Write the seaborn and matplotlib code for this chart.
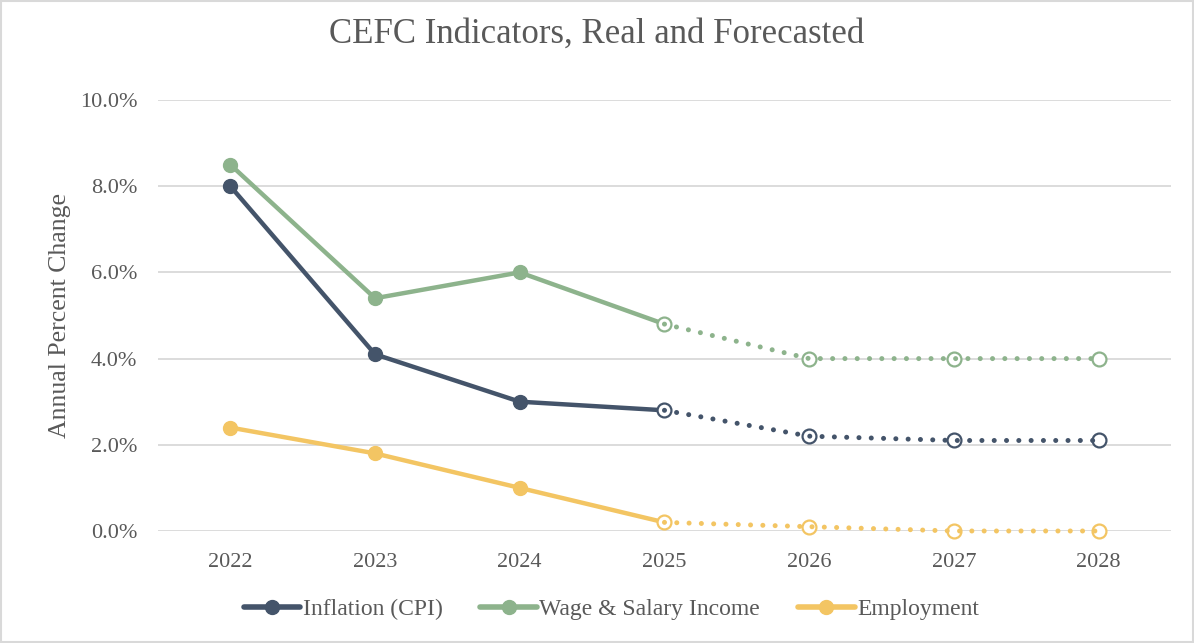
import pandas as pd
import matplotlib.pyplot as plt
import seaborn as sns
from matplotlib.lines import Line2D
from matplotlib.patches import Rectangle
from matplotlib.ticker import FuncFormatter

# Data (annual percent change)
years = ['2022', '2023', '2024', '2025', '2026', '2027', '2028']
inflation = [8.0, 4.1, 3.0, 2.8, 2.2, 2.1, 2.1]
wage_income = [8.5, 5.4, 6.0, 4.8, 4.0, 4.0, 4.0]
employment = [2.4, 1.8, 1.0, 0.2, 0.1, 0.0, 0.0]
series_names = ['Inflation (CPI)', 'Wage & Salary Income', 'Employment']
colors = ['#44546A', '#8DB38C', '#F3C563']
last_real = '2025'

# Long format
df = pd.DataFrame({'year': years, 'Inflation (CPI)': inflation,
                   'Wage & Salary Income': wage_income, 'Employment': employment})
df_long = df.melt(id_vars='year', var_name='series', value_name='value')
df_long['pos'] = df_long['year'].map({y: i for i, y in enumerate(years)})
cut = years.index(last_real)

sns.set_style('white')
plt.rcParams['font.family'] = ['Liberation Serif', 'DejaVu Serif']

fig = plt.figure(figsize=(11.94, 6.43), dpi=100)
ax = fig.add_axes([0.1323, 0.1742, 0.8484, 0.6703])

for name, col in zip(series_names, colors):
    d = df_long[df_long['series'] == name]
    real = d[d['pos'] <= cut]
    fc = d[d['pos'] >= cut]
    sns.lineplot(data=real, x='pos', y='value', color=col, linewidth=3.2,
                 ax=ax, zorder=3, solid_capstyle='round', clip_on=False)
    ax.plot(real['pos'][:-1], real['value'][:-1], 'o', color=col,
            markersize=10, zorder=4, clip_on=False)
    ax.plot(fc['pos'], fc['value'], 'o', mfc='white', mec=col, mew=1.6,
            markersize=10, zorder=4, linestyle='none', clip_on=False)
    sns.lineplot(data=fc, x='pos', y='value', color=col, linewidth=3.6,
                 ax=ax, zorder=5, linestyle=(0, (0.01, 2.45)),
                 dash_capstyle='round', clip_on=False)

ax.set_xlim(-0.5, len(years) - 0.5)
ax.set_ylim(0, 10)
ax.set_xticks(range(len(years)))
ax.set_xticklabels(years)
ax.set_yticks([0, 2, 4, 6, 8, 10])
ax.yaxis.set_major_formatter(FuncFormatter(lambda v, _: f'{v:.1f}%'))
ax.grid(axis='y', color='#D9D9D9', linewidth=1.3)
ax.set_axisbelow(True)
for s in ax.spines.values():
    s.set_visible(False)
ax.tick_params(axis='both', length=0, labelsize=16, labelcolor='#595959')
ax.tick_params(axis='x', pad=16)
ax.tick_params(axis='y', pad=15)
ax.set_xlabel('')
ax.set_ylabel('Annual Percent Change', fontsize=18.5, color='#595959', labelpad=6)
fig.suptitle('CEFC Indicators, Real and Forecasted', fontsize=25,
             color='#595959', y=0.972)

handles = [Line2D([0], [0], color=c, linewidth=4, marker='o', markersize=10)
           for c in colors]
fig.legend(handles, series_names, loc='center', bbox_to_anchor=(0.512, 0.052),
           ncol=3, frameon=False, fontsize=17, labelcolor='#595959',
           handlelength=2.4, handletextpad=0.1, columnspacing=1.6)

fig.patches.append(Rectangle((0.001, 0.001), 0.998, 0.997, transform=fig.transFigure,
                             fill=False, edgecolor='#D9D9D9', linewidth=1.5))

fig.savefig('out.png', dpi=100)
